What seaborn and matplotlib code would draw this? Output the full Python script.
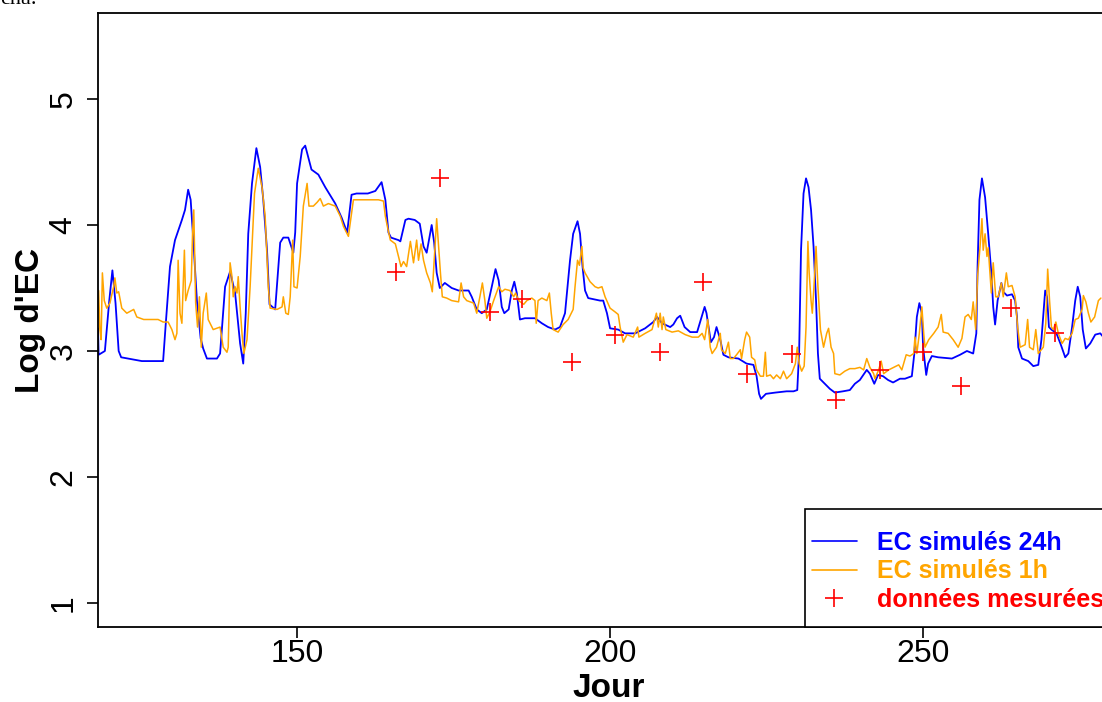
import matplotlib
matplotlib.use("Agg")
import matplotlib.pyplot as plt
from matplotlib import font_manager
from matplotlib.lines import Line2D
from matplotlib.patches import Rectangle
import seaborn as sns
import pandas as pd

# ---- simulated EC, daily time step (24h) ----
day_24h = [118.2, 118.3, 119.3, 120.0, 120.5, 121.0, 121.5, 121.9, 125.2, 128.6,
           129.0, 129.7, 130.5, 131.6, 132.1, 132.6, 133.0, 133.4, 134.0, 134.6,
           135.0, 135.6, 137.2, 137.7, 138.5, 139.3, 140.1, 140.9, 141.4, 141.8,
           142.2, 142.8, 143.5, 144.1, 144.6, 145.2, 145.6, 146.5, 147.3, 147.8,
           148.6, 149.4, 149.7, 150.0, 150.8, 151.3, 152.3, 153.4, 154.5, 156.1,
           157.1, 158.0, 158.7, 159.5, 161.3, 162.5, 163.5, 164.1, 164.6, 165.0,
           166.2, 166.5, 167.3, 167.8, 168.8, 169.6, 170.2, 170.7, 171.5, 171.9,
           172.3, 172.8, 173.6, 174.7, 175.8, 177.4, 177.9, 178.7, 179.5, 180.3,
           181.1, 181.7, 182.2, 182.7, 183.1, 183.8, 184.3, 184.7, 185.1, 185.6,
           186.4, 188.0, 189.1, 190.1, 191.2, 192.0, 192.8, 193.6, 194.1, 194.8,
           195.2, 195.6, 196.0, 196.5, 198.4, 198.9, 199.5, 200.0, 201.3, 202.4,
           204.0, 205.6, 206.9, 207.5, 208.3, 209.6, 210.1, 210.7, 211.2, 211.9,
           212.8, 213.9, 214.5, 215.1, 215.4, 216.1, 216.6, 217.0, 217.6, 218.1,
           218.9, 220.5, 221.8, 222.9, 223.4, 223.8, 224.1, 224.9, 226.4, 228.2,
           229.3, 229.9, 230.2, 230.5, 230.9, 231.3, 231.7, 232.1, 232.5, 232.9,
           233.2, 233.5, 234.3, 235.1, 235.9, 237.2, 238.3, 239.1, 239.9, 241.0,
           241.5, 242.2, 242.8, 243.6, 244.4, 245.2, 246.3, 247.1, 248.2, 248.6,
           249.0, 249.4, 249.8, 250.0, 250.5, 250.8, 251.4, 252.4, 254.6, 255.9,
           257.0, 258.0, 258.5, 258.7, 259.0, 259.4, 259.9, 260.4, 260.9, 261.2,
           261.5, 261.9, 262.5, 262.8, 263.4, 264.2, 264.7, 265.0, 265.2, 265.8,
           266.8, 267.6, 268.4, 268.9, 269.5, 269.8, 270.1, 270.5, 271.3, 272.0,
           272.7, 273.2, 273.8, 274.3, 274.7, 275.1, 275.5, 276.0, 276.7, 277.5,
           278.3, 278.8]
ec_24h = [3.18, 2.97, 3.00, 3.40, 3.64, 3.38, 3.00, 2.95, 2.92, 2.92,
          3.20, 3.67, 3.88, 4.04, 4.12, 4.28, 4.20, 3.90, 3.40, 3.10,
          3.02, 2.94, 2.94, 2.98, 3.51, 3.63, 3.46, 3.06, 2.90, 3.30,
          3.93, 4.33, 4.61, 4.46, 4.20, 3.80, 3.37, 3.33, 3.86, 3.90,
          3.90, 3.78, 3.94, 4.33, 4.60, 4.63, 4.44, 4.40, 4.30, 4.17,
          4.06, 3.94, 4.24, 4.25, 4.25, 4.27, 4.34, 4.20, 3.94, 3.90,
          3.88, 3.87, 4.04, 4.05, 4.04, 4.01, 3.83, 3.78, 4.00, 3.86,
          3.62, 3.50, 3.54, 3.50, 3.48, 3.48, 3.43, 3.33, 3.30, 3.33,
          3.51, 3.65, 3.56, 3.35, 3.30, 3.33, 3.48, 3.55, 3.46, 3.25,
          3.26, 3.26, 3.22, 3.19, 3.17, 3.19, 3.30, 3.72, 3.93, 4.03,
          3.93, 3.67, 3.48, 3.42, 3.40, 3.40, 3.30, 3.18, 3.17, 3.14,
          3.14, 3.18, 3.23, 3.27, 3.22, 3.19, 3.21, 3.26, 3.28, 3.19,
          3.15, 3.15, 3.25, 3.35, 3.30, 3.07, 3.11, 3.19, 3.09, 2.97,
          2.95, 2.94, 2.90, 2.89, 2.80, 2.66, 2.62, 2.66, 2.67, 2.68,
          2.68, 2.69, 3.00, 3.80, 4.25, 4.37, 4.30, 4.12, 3.83, 3.40,
          2.98, 2.78, 2.74, 2.70, 2.67, 2.68, 2.69, 2.74, 2.77, 2.85,
          2.82, 2.74, 2.81, 2.80, 2.77, 2.75, 2.78, 2.78, 2.80, 2.98,
          3.27, 3.38, 3.30, 3.03, 2.81, 2.90, 2.96, 2.95, 2.94, 2.97,
          3.00, 2.98, 3.14, 3.67, 4.20, 4.37, 4.22, 3.93, 3.62, 3.35,
          3.21, 3.40, 3.54, 3.47, 3.44, 3.45, 3.40, 3.27, 3.03, 2.94,
          2.92, 2.88, 2.89, 3.09, 3.48, 3.43, 3.19, 3.17, 3.14, 3.05,
          2.95, 2.98, 3.19, 3.40, 3.51, 3.43, 3.17, 3.02, 3.06, 3.13,
          3.14, 3.11]

# ---- simulated EC, hourly time step (1h) ----
day_1h = [118.3, 118.5, 118.7, 118.9, 119.2, 119.6, 120.1, 120.7, 120.9, 121.2,
          121.5, 122.0, 122.8, 123.9, 124.4, 125.5, 126.5, 127.8, 128.6, 129.4,
          130.0, 130.5, 130.8, 131.0, 131.3, 131.6, 132.0, 132.2, 132.6, 133.1,
          133.3, 133.5, 133.8, 134.1, 134.4, 134.7, 135.0, 135.5, 135.8, 136.6,
          137.7, 138.2, 138.8, 139.0, 139.3, 139.6, 139.8, 140.1, 140.4, 140.6,
          140.9, 141.2, 141.5, 142.0, 142.5, 143.2, 143.8, 144.4, 144.9, 145.4,
          145.7, 146.8, 147.6, 147.8, 148.2, 148.6, 148.9, 149.3, 149.5, 150.0,
          150.5, 151.0, 151.6, 151.9, 152.6, 153.2, 153.7, 154.2, 155.0, 156.1,
          156.9, 157.4, 158.2, 159.0, 159.5, 163.0, 163.8, 164.1, 164.5, 164.9,
          165.7, 166.2, 166.6, 167.0, 167.5, 168.1, 168.6, 169.1, 169.4, 169.8,
          170.2, 170.7, 171.3, 171.6, 171.9, 172.3, 172.6, 172.9, 173.2, 173.9,
          174.7, 175.8, 176.2, 176.6, 177.1, 178.2, 178.7, 179.2, 179.6, 180.0,
          180.3, 180.8, 181.4, 182.2, 182.7, 183.2, 184.0, 184.6, 184.9, 185.4,
          186.2, 186.7, 187.5, 188.0, 188.2, 188.5, 189.1, 189.9, 190.3, 190.6,
          190.9, 191.7, 192.5, 193.3, 194.1, 194.4, 194.8, 195.1, 195.5, 195.7,
          196.0, 196.8, 197.6, 198.1, 198.7, 199.2, 200.0, 200.8, 201.3, 201.6,
          202.1, 202.7, 203.7, 204.4, 204.6, 205.6, 206.7, 207.4, 207.7, 208.0,
          208.3, 208.5, 208.9, 209.9, 210.9, 212.0, 213.1, 214.1, 214.7, 215.1,
          215.6, 216.0, 216.3, 217.0, 217.6, 217.8, 218.4, 218.9, 219.2, 219.7,
          220.2, 220.8, 221.0, 221.5, 221.8, 222.3, 222.6, 223.1, 223.4, 224.0,
          224.5, 224.8, 225.0, 225.6, 226.1, 226.6, 227.2, 227.7, 228.2, 229.0,
          229.6, 229.9, 230.2, 230.6, 231.0, 231.3, 231.6, 231.8, 232.1, 232.3,
          232.6, 232.9, 233.2, 233.6, 234.1, 234.6, 234.9, 235.3, 235.7, 235.9,
          236.7, 237.5, 238.3, 239.1, 239.9, 240.5, 241.0, 241.5, 242.1, 242.3,
          242.9, 243.3, 243.7, 244.5, 245.3, 246.1, 246.6, 247.3, 247.9, 248.5,
          248.7, 249.0, 249.4, 249.8, 250.1, 250.3, 250.9, 251.7, 252.4, 252.9,
          253.2, 254.0, 254.8, 255.6, 256.2, 256.7, 257.2, 257.7, 258.0, 258.4,
          258.7, 259.1, 259.4, 259.6, 259.9, 260.2, 260.4, 260.9, 261.2, 261.6,
          262.0, 262.5, 262.8, 263.3, 263.6, 264.2, 264.7, 265.1, 265.5, 266.3,
          266.7, 267.0, 267.6, 268.0, 268.4, 269.2, 269.6, 269.9, 270.2, 270.5,
          270.8, 271.2, 271.6, 272.2, 272.7, 273.2, 273.8, 274.3, 274.8, 275.4,
          275.6, 276.0, 276.4, 276.8, 277.4, 278.0, 278.4]
ec_1h = [3.48, 3.17, 3.09, 3.62, 3.40, 3.34, 3.38, 3.51, 3.58, 3.46,
         3.47, 3.34, 3.30, 3.33, 3.27, 3.25, 3.25, 3.25, 3.23, 3.23,
         3.17, 3.09, 3.14, 3.72, 3.30, 3.22, 3.80, 3.40, 3.48, 3.56,
         3.93, 4.12, 3.38, 3.19, 3.43, 3.03, 3.30, 3.46, 3.25, 3.17,
         3.19, 3.03, 2.99, 3.03, 3.70, 3.59, 3.43, 3.51, 3.46, 3.59,
         3.35, 3.14, 2.98, 3.09, 3.51, 4.25, 4.45, 4.30, 4.07, 3.51,
         3.34, 3.33, 3.35, 3.43, 3.30, 3.29, 3.43, 3.88, 3.51, 3.50,
         3.75, 4.15, 4.33, 4.15, 4.15, 4.18, 4.21, 4.15, 4.17, 4.15,
         4.07, 3.99, 3.91, 4.20, 4.20, 4.20, 4.19, 4.07, 3.97, 3.88,
         3.85, 3.75, 3.67, 3.71, 3.67, 3.87, 3.70, 3.88, 3.72, 3.85,
         3.72, 3.62, 3.54, 3.47, 3.72, 4.05, 3.83, 3.62, 3.43, 3.42,
         3.40, 3.39, 3.54, 3.43, 3.40, 3.38, 3.30, 3.43, 3.54, 3.40,
         3.26, 3.31, 3.40, 3.51, 3.47, 3.49, 3.48, 3.43, 3.46, 3.40,
         3.37, 3.40, 3.42, 3.40, 3.22, 3.40, 3.42, 3.40, 3.46, 3.30,
         3.17, 3.15, 3.21, 3.25, 3.33, 3.51, 3.72, 3.68, 3.83, 3.66,
         3.62, 3.55, 3.51, 3.50, 3.51, 3.43, 3.34, 3.31, 3.29, 3.19,
         3.07, 3.13, 3.11, 3.19, 3.11, 3.14, 3.17, 3.30, 3.19, 3.30,
         3.17, 3.27, 3.17, 3.15, 3.16, 3.13, 3.11, 3.11, 3.14, 3.09,
         3.25, 3.03, 2.98, 3.03, 3.14, 3.01, 2.98, 3.07, 2.94, 2.94,
         2.97, 3.01, 2.94, 3.09, 3.15, 3.11, 2.95, 2.93, 2.85, 2.80,
         2.80, 2.99, 2.80, 2.81, 2.78, 2.81, 2.78, 2.84, 2.78, 2.82,
         2.90, 3.03, 2.90, 2.84, 2.88, 3.19, 3.87, 3.62, 3.40, 3.30,
         3.54, 3.83, 3.51, 3.17, 3.03, 3.14, 3.18, 3.03, 2.98, 2.82,
         2.81, 2.84, 2.86, 2.86, 2.87, 2.85, 2.94, 2.87, 2.82, 2.78,
         2.85, 2.92, 2.82, 2.85, 2.87, 2.89, 2.85, 2.97, 2.96, 2.98,
         3.11, 2.98, 3.14, 3.35, 3.14, 3.03, 3.09, 3.14, 3.19, 3.29,
         3.15, 3.14, 3.09, 3.03, 3.10, 3.27, 3.29, 3.25, 3.39, 3.17,
         3.59, 3.83, 4.05, 3.80, 3.93, 3.75, 3.82, 3.46, 3.70, 3.43,
         3.43, 3.54, 3.43, 3.62, 3.51, 3.52, 3.43, 3.19, 3.03, 3.05,
         3.25, 3.03, 3.01, 3.17, 2.98, 3.03, 3.22, 3.65, 3.40, 3.19,
         3.17, 3.23, 3.14, 3.06, 3.10, 3.09, 3.14, 3.25, 3.26, 3.33,
         3.44, 3.39, 3.30, 3.23, 3.27, 3.40, 3.42]

# ---- measured EC ----
day_obs = [165.8, 172.8, 180.8, 185.9, 193.9, 200.8, 208.0, 214.9,
           221.9, 229.0, 236.1, 243.1, 250.0, 256.1, 264.1, 271.1]
ec_obs = [3.63, 4.37, 3.31, 3.41, 2.91, 3.13, 2.99, 3.55,
          2.82, 2.98, 2.61, 2.85, 2.99, 2.72, 3.34, 3.14]

x_ticks = [150, 200, 250]
y_ticks = [1, 2, 3, 4, 5]
labels = ["EC simulés 24h", "EC simulés 1h", "données mesurées"]
colors = ["blue", "orange", "red"]

sns.set_style("ticks")
installed = {f.name for f in font_manager.fontManager.ttflist}
sans = "Liberation Sans"
narrow = "Liberation Sans Narrow" if "Liberation Sans Narrow" in installed else sans
tick_size = 26 if narrow != sans else 23
plt.rcParams["font.family"] = [sans, "DejaVu Sans"]
for key in ("text.color", "axes.labelcolor", "xtick.color", "ytick.color",
            "axes.edgecolor"):
    plt.rcParams[key] = "black"

fig = plt.figure(figsize=(11.02, 7.02), dpi=100)
# plot panel: left edge at 98 px, runs past the right border of the figure
ax = fig.add_axes([98 / 1102, 75 / 702, 1022.3 / 1102, 614 / 702])

df24 = pd.DataFrame({"Jour": day_24h, "EC": ec_24h})
df1 = pd.DataFrame({"Jour": day_1h, "EC": ec_1h})
dfo = pd.DataFrame({"Jour": day_obs, "EC": ec_obs})

sns.lineplot(data=df24, x="Jour", y="EC", ax=ax, color=colors[0], lw=1.3,
             estimator=None, sort=False)
sns.lineplot(data=df1, x="Jour", y="EC", ax=ax, color=colors[1], lw=1.1,
             estimator=None, sort=False)
sns.scatterplot(data=dfo, x="Jour", y="EC", ax=ax, color=colors[2], marker="+",
                s=150, linewidth=1.2, zorder=5)

ax.set_xlim(118.2, 281.5)
ax.set_ylim(0.8095, 5.6825)
ax.set_xticks(x_ticks)
ax.set_yticks(y_ticks)
ax.set_xticklabels([str(v) for v in x_ticks], fontsize=tick_size, family=narrow)
ax.set_yticklabels([str(v) for v in y_ticks], fontsize=tick_size, family=narrow,
                   rotation=90, va="center")
ax.tick_params(axis="both", length=8, width=1.2, color="black")
ax.tick_params(axis="x", pad=0.5)
ax.tick_params(axis="y", pad=6)
for side in ("left", "bottom", "top", "right"):
    ax.spines[side].set_linewidth(1.3)
    ax.spines[side].set_color("black")

ax.set_xlabel("Jour", fontsize=24, fontweight="bold", labelpad=3)
ax.set_ylabel("Log d'EC", fontsize=24, fontweight="bold", labelpad=2)

# legend frame drawn as a box anchored on the bottom axis
ax.add_patch(Rectangle((0.6916, 0.0), 0.5, 0.1922, transform=ax.transAxes,
                       facecolor="white", edgecolor="black", lw=1.2,
                       zorder=6, clip_on=False))
handles = [Line2D([], [], color=colors[0], lw=1.2),
           Line2D([], [], color=colors[1], lw=1.2),
           Line2D([], [], color=colors[2], lw=0, marker="+", markersize=13,
                  markeredgewidth=1.2)]
leg = ax.legend(handles, labels, loc="upper left", bbox_to_anchor=(0.6984, 0.156),
                borderaxespad=0, borderpad=0, frameon=False, labelcolor=colors,
                prop={"family": sans, "weight": "bold", "size": 18},
                handlelength=1.8, handletextpad=0.8, labelspacing=0.17)
leg.set_zorder(7)

# fragment of the caption line above the figure
fig.text(0.0, 1 - 4 / 702, "ena.", family="Liberation Serif", fontsize=16,
         va="baseline", ha="left")

fig.savefig("out.png", dpi=100)
